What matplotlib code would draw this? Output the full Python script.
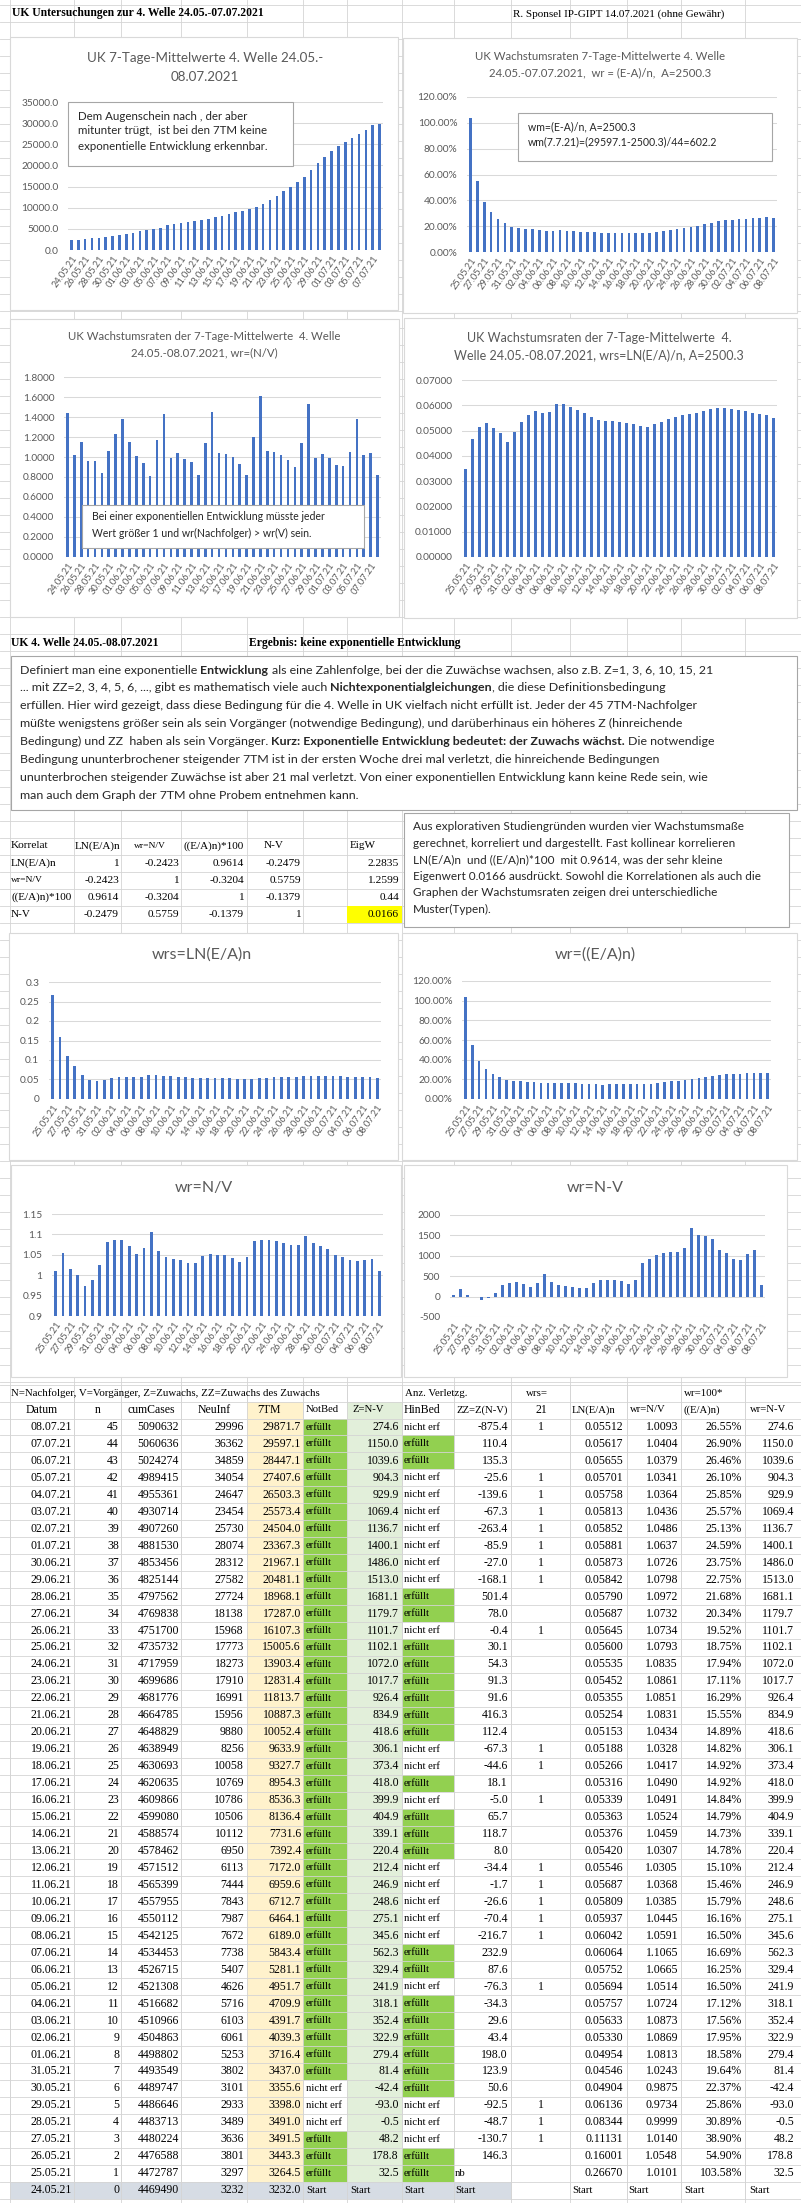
import matplotlib
matplotlib.use("Agg")
import matplotlib.pyplot as plt
from matplotlib.patches import Rectangle

W, H = 801, 2203
SANS = "Lato"
SERIF = "Liberation Serif"
BAR = "#4472C4"
GRID = "#D9D9D9"
TXT = "#595959"
SHEET = "#D4D4D4"

plt.rcParams["font.family"] = [SANS, "DejaVu Sans"]

# ---- table data (row order as in the sheet: 08.07.21 first) ----
datum = ["08.07.21", "07.07.21", "06.07.21", "05.07.21", "04.07.21", "03.07.21",
         "02.07.21", "01.07.21", "30.06.21", "29.06.21", "28.06.21", "27.06.21",
         "26.06.21", "25.06.21", "24.06.21", "23.06.21", "22.06.21", "21.06.21",
         "20.06.21", "19.06.21", "18.06.21", "17.06.21", "16.06.21", "15.06.21",
         "14.06.21", "13.06.21", "12.06.21", "11.06.21", "10.06.21", "09.06.21",
         "08.06.21", "07.06.21", "06.06.21", "05.06.21", "04.06.21", "03.06.21",
         "02.06.21", "01.06.21", "31.05.21", "30.05.21", "29.05.21", "28.05.21",
         "27.05.21", "26.05.21", "25.05.21", "24.05.21"]
n_day = [45, 44, 43, 42, 41, 40, 39, 38, 37, 36, 35, 34, 33, 32, 31, 30, 29, 28,
         27, 26, 25, 24, 23, 22, 21, 20, 19, 18, 17, 16, 15, 14, 13, 12, 11, 10,
         9, 8, 7, 6, 5, 4, 3, 2, 1, 0]
cum_cases = [5090632, 5060636, 5024274, 4989415, 4955361, 4930714, 4907260, 4881530,
             4853456, 4825144, 4797562, 4769838, 4751700, 4735732, 4717959, 4699686,
             4681776, 4664785, 4648829, 4638949, 4630693, 4620635, 4609866, 4599080,
             4588574, 4578462, 4571512, 4565399, 4557955, 4550112, 4542125, 4534453,
             4526715, 4521308, 4516682, 4510966, 4504863, 4498802, 4493549, 4489747,
             4486646, 4483713, 4480224, 4476588, 4472787, 4469490]
neu_inf = [29996, 36362, 34859, 34054, 24647, 23454, 25730, 28074, 28312, 27582,
           27724, 18138, 15968, 17773, 18273, 17910, 16991, 15956, 9880, 8256,
           10058, 10769, 10786, 10506, 10112, 6950, 6113, 7444, 7843, 7987, 7672,
           7738, 5407, 4626, 5716, 6103, 6061, 5253, 3802, 3101, 2933, 3489, 3636,
           3801, 3297, 3232]
tm7 = [29871.7, 29597.1, 28447.1, 27407.6, 26503.3, 25573.4, 24504.0, 23367.3,
       21967.1, 20481.1, 18968.1, 17287.0, 16107.3, 15005.6, 13903.4, 12831.4,
       11813.7, 10887.3, 10052.4, 9633.9, 9327.7, 8954.3, 8536.3, 8136.4, 7731.6,
       7392.4, 7172.0, 6959.6, 6712.7, 6464.1, 6189.0, 5843.4, 5281.1, 4951.7,
       4709.9, 4391.7, 4039.3, 3716.4, 3437.0, 3355.6, 3398.0, 3491.0, 3491.5,
       3443.3, 3264.5, 3232.0]
# E = erfüllt, N = nicht erf, S = Start
not_bed = "EEEEEEEEEEEEEEEEEEEEEEEEEEEEEEEEEEEEEEENNNEEES"
hin_bed = "NEENNNNNNNEENEEEEEENNENEEENNNNNEENEEEEEENNNEES"
z_nv = [274.6, 1150.0, 1039.6, 904.3, 929.9, 1069.4, 1136.7, 1400.1, 1486.0,
        1513.0, 1681.1, 1179.7, 1101.7, 1102.1, 1072.0, 1017.7, 926.4, 834.9,
        418.6, 306.1, 373.4, 418.0, 399.9, 404.9, 339.1, 220.4, 212.4, 246.9,
        248.6, 275.1, 345.6, 562.3, 329.4, 241.9, 318.1, 352.4, 322.9, 279.4,
        81.4, -42.4, -93.0, -0.5, 48.2, 178.8, 32.5]
zz = [-875.4, 110.4, 135.3, -25.6, -139.6, -67.3, -263.4, -85.9, -27.0, -168.1,
      501.4, 78.0, -0.4, 30.1, 54.3, 91.3, 91.6, 416.3, 112.4, -67.3, -44.6,
      18.1, -5.0, 65.7, 118.7, 8.0, -34.4, -1.7, -26.6, -70.4, -216.7, 232.9,
      87.6, -76.3, -34.3, 29.6, 43.4, 198.0, 123.9, 50.6, -92.5, -48.7, -130.7,
      146.3]
ln_ea = [0.05512, 0.05617, 0.05655, 0.05701, 0.05758, 0.05813, 0.05852, 0.05881,
         0.05873, 0.05842, 0.05790, 0.05687, 0.05645, 0.05600, 0.05535, 0.05452,
         0.05355, 0.05254, 0.05153, 0.05188, 0.05266, 0.05316, 0.05339, 0.05363,
         0.05376, 0.05420, 0.05546, 0.05687, 0.05809, 0.05937, 0.06042, 0.06064,
         0.05752, 0.05694, 0.05757, 0.05633, 0.05330, 0.04954, 0.04546, 0.04904,
         0.06136, 0.08344, 0.11131, 0.16001, 0.26670]
wr_nv = [1.0093, 1.0404, 1.0379, 1.0341, 1.0364, 1.0436, 1.0486, 1.0637, 1.0726,
         1.0798, 1.0972, 1.0732, 1.0734, 1.0793, 1.0835, 1.0861, 1.0851, 1.0831,
         1.0434, 1.0328, 1.0417, 1.0490, 1.0491, 1.0524, 1.0459, 1.0307, 1.0305,
         1.0368, 1.0385, 1.0445, 1.0591, 1.1065, 1.0665, 1.0514, 1.0724, 1.0873,
         1.0869, 1.0813, 1.0243, 0.9875, 0.9734, 0.9999, 1.0140, 1.0548, 1.0101]
wr_pct = [26.55, 26.90, 26.46, 26.10, 25.85, 25.57, 25.13, 24.59, 23.75, 22.75,
          21.68, 20.34, 19.52, 18.75, 17.94, 17.11, 16.29, 15.55, 14.89, 14.82,
          14.92, 14.92, 14.84, 14.79, 14.73, 14.78, 15.10, 15.46, 15.79, 16.16,
          16.50, 16.69, 16.25, 16.50, 17.12, 17.56, 17.95, 18.58, 19.64, 22.37,
          25.86, 30.89, 38.90, 54.90, 103.58]

# ---- values that the charts show differently from the table ----
chart1_start = [2420, 2440, 2680, 2900, 2920, 3150]   # first 6 bars of the 7TM chart
chart3_nv = [1.44, 1.020, 1.153, 0.957, 0.960, 0.841, 1.057, 1.226, 1.382, 1.154,
             1.007, 0.937, 0.809, 1.169, 1.431, 0.991, 1.041, 0.982, 0.949, 0.821,
             1.137, 1.455, 1.039, 1.027, 0.998, 0.934, 0.821, 1.197, 1.615, 1.065,
             1.054, 1.020, 0.973, 0.898, 1.136, 1.529, 0.995, 1.026, 0.992, 0.917,
             0.912, 1.051, 1.382, 1.024, 1.043, 0.825]
chart4_start = [0.0350, 0.0465, 0.0515, 0.0528, 0.0512]

# correlation matrix
corr_names = ["LN(E/A)n", "wr=N/V", "((E/A)n)*100", "N-V"]
corr = [[1, -0.2423, 0.9614, -0.2479],
        [-0.2423, 1, -0.3204, 0.5759],
        [0.9614, -0.3204, 1, -0.1379],
        [-0.2479, 0.5759, -0.1379, 1]]
eig_w = ["2.2835", "1.2599", "0.44", "0.0166"]

cats46 = datum[::-1]
cats45 = cats46[1:]
tm7_chart = list(tm7[::-1])
tm7_chart[:6] = chart1_start
ln_chart = list(ln_ea[::-1])
ln_chart4 = list(ln_chart)
ln_chart4[:5] = chart4_start

fig = plt.figure(figsize=(W / 100, H / 100), dpi=100)
bg = fig.add_axes([0, 0, 1, 1])
bg.set_xlim(0, W)
bg.set_ylim(H, 0)
bg.axis("off")
renderer = fig.canvas.get_renderer()


def px_axes(x0, y0, x1, y1, **kw):
    return fig.add_axes([x0 / W, 1 - y1 / H, (x1 - x0) / W, (y1 - y0) / H], **kw)


def width_px(s, **kw):
    t1 = bg.text(0, 0, "|" + s + "|", **kw)
    t2 = bg.text(0, 0, "||", **kw)
    w = t1.get_window_extent(renderer).width - t2.get_window_extent(renderer).width
    t1.remove()
    t2.remove()
    return w


def runs(ax, x, y, parts, size, family=SANS, color="#262626"):
    for s, bold in parts:
        kw = dict(fontsize=size, family=family, fontweight="bold" if bold else "normal")
        lead = s[:len(s) - len(s.lstrip())]
        xs = x + (width_px(lead, **kw) if lead else 0)
        ax.text(xs, y, s.lstrip(), ha="left", va="center", color=color, **kw)
        x += width_px(s, **kw)


# ---- spreadsheet grid behind everything ----
cols = [10, 74, 121, 181, 247, 303, 347, 402, 454, 511, 570, 627, 681, 745]
for cx in cols:
    bg.plot([cx, cx], [0, H], color=SHEET, lw=0.6, zorder=0)
y = 4.5
while y < 1385:
    bg.plot([0, W], [y, y], color=SHEET, lw=0.6, zorder=0)
    y += 17

# header line
bg.text(12, 13, "UK Untersuchungen zur 4. Welle 24.05.-07.07.2021", family=SERIF,
        fontweight="bold", fontsize=8.4, va="center", ha="left")
bg.text(513, 14, "R. Sponsel IP-GIPT 14.07.2021 (ohne Gewähr)", family=SERIF,
        fontsize=8.0, va="center", ha="left")


def chart(box, plot, values, cats, ylim, ticks, ticklabels, title, tx, ty, tsize,
          base=0.0):
    x0, y0, x1, y1 = box
    bg.add_patch(Rectangle((x0, y0), x1 - x0, y1 - y0, fc="white", ec=GRID,
                           lw=0.8, zorder=1))
    for line, yy in zip(title, ty):
        bg.text(tx, yy, line, ha="center", va="center", color=TXT, fontsize=tsize,
                zorder=2)
    ax = px_axes(*plot)
    ax.patch.set_alpha(0)
    n = len(values)
    ax.bar(range(n), [v - base for v in values], bottom=base, width=0.38,
           color=BAR, zorder=3)
    ax.set_xlim(-0.5, n - 0.5)
    ax.set_ylim(*ylim)
    for t in ticks:
        ax.axhline(t, color=GRID, lw=0.75, zorder=1)
    ax.set_yticks(ticks)
    ax.set_yticklabels(ticklabels)
    ax.set_xticks(range(0, n, 2))
    ax.set_xticklabels(cats[::2], rotation=55, ha="right", va="top",
                       rotation_mode="anchor")
    for s in ax.spines.values():
        s.set_visible(False)
    ax.tick_params(axis="y", length=0, labelsize=7.3, colors=TXT, pad=7)
    ax.tick_params(axis="x", length=0, labelsize=6.7, colors=TXT, pad=3)
    return ax


chart((10, 37, 398, 310), (68, 102, 383, 250), tm7_chart, cats46, (0, 35000),
      [0, 5000, 10000, 15000, 20000, 25000, 30000, 35000],
      ["0.0", "5000.0", "10000.0", "15000.0", "20000.0", "25000.0", "30000.0",
       "35000.0"],
      ["UK 7-Tage-Mittelwerte 4. Welle 24.05.-", "08.07.2021"], 205, [58, 77], 9.6)

chart((403, 38, 797, 313), (467, 97, 777, 252), wr_pct[::-1], cats45, (0, 120),
      [0, 20, 40, 60, 80, 100, 120],
      ["0.00%", "20.00%", "40.00%", "60.00%", "80.00%", "100.00%", "120.00%"],
      ["UK Wachstumsraten 7-Tage-Mittelwerte 4. Welle",
       "24.05.-07.07.2021,  wr = (E-A)/n,  A=2500.3"], 600, [57, 73], 8.2)

chart((10, 319, 399, 617), (64, 377, 381, 557), chart3_nv, cats46, (0, 1.8),
      [0, 0.2, 0.4, 0.6, 0.8, 1.0, 1.2, 1.4, 1.6, 1.8],
      ["0.0000", "0.2000", "0.4000", "0.6000", "0.8000", "1.0000", "1.2000",
       "1.4000", "1.6000", "1.8000"],
      ["UK Wachstumsraten der 7-Tage-Mittelwerte  4. Welle",
       "24.05.-08.07.2021, wr=(N/V)"], 204, [337, 353], 8.2)

chart((404, 318, 797, 618), (462, 380, 777, 557), ln_chart4, cats45, (0, 0.07),
      [0, 0.01, 0.02, 0.03, 0.04, 0.05, 0.06, 0.07],
      ["0.00000", "0.01000", "0.02000", "0.03000", "0.04000", "0.05000", "0.06000",
       "0.07000"],
      ["UK Wachstumsraten der 7-Tage-Mittelwerte  4.",
       "Welle 24.05.-08.07.2021, wrs=LN(E/A)/n, A=2500.3"], 599, [338, 356], 9.0)

chart((9, 933, 398, 1160), (49, 982, 381, 1099), ln_chart, cats45, (0, 0.3),
      [0, 0.05, 0.1, 0.15, 0.2, 0.25, 0.3],
      ["0", "0.05", "0.1", "0.15", "0.2", "0.25", "0.3"],
      ["wrs=LN(E/A)n"], 202, [955], 11.5)

chart((402, 933, 797, 1160), (462, 981, 771, 1099), wr_pct[::-1], cats45, (0, 120),
      [0, 20, 40, 60, 80, 100, 120],
      ["0.00%", "20.00%", "40.00%", "60.00%", "80.00%", "100.00%", "120.00%"],
      ["wr=((E/A)n)"], 595, [955], 11.5)

chart((11, 1165, 401, 1377), (52, 1214, 383, 1316), wr_nv[::-1], cats45,
      (0.9, 1.15), [0.9, 0.95, 1.0, 1.05, 1.1, 1.15],
      ["0.9", "0.95", "1", "1.05", "1.1", "1.15"],
      ["wr=N/V"], 204, [1188], 11.5, base=0.9)

chart((404, 1165, 787, 1377), (450, 1215, 765, 1317), z_nv[::-1], cats45,
      (-500, 2000), [-500, 0, 500, 1000, 1500, 2000],
      ["-500", "0", "500", "1000", "1500", "2000"],
      ["wr=N-V"], 595, [1188], 11.5)

# ---- overlay for boxes that sit on top of the bars ----
ov = fig.add_axes([0, 0, 1, 1], zorder=10)
ov.set_xlim(0, W)
ov.set_ylim(H, 0)
ov.axis("off")


def note(ax, box, lines, ys, x, size):
    x0, y0, x1, y1 = box
    ax.add_patch(Rectangle((x0, y0), x1 - x0, y1 - y0, fc="white", ec="#A6A6A6",
                           lw=0.8, zorder=5))
    for line, yy in zip(lines, ys):
        ax.text(x, yy, line, ha="left", va="center", fontsize=size, color="#262626",
                zorder=6)


note(ov, (68, 102, 293, 166),
     ["Dem Augenschein nach , der aber", "mitunter trügt,  ist bei den 7TM keine",
      "exponentielle Entwicklung erkennbar."], [116, 131, 147], 78, 8.3)
note(ov, (518, 113, 772, 161),
     ["wm=(E-A)/n, A=2500.3", "wm(7.7.21)=(29597.1-2500.3)/44=602.2"],
     [127, 142], 528, 7.6)
note(ov, (82, 505, 364, 548),
     ["Bei einer exponentiellen Entwicklung müsste jeder",
      "Wert größer 1 und wr(Nachfolger) > wr(V) sein."], [517, 533], 92, 7.6)

# ---- result line and explanation ----
bg.text(11, 643, "UK 4. Welle 24.05.-08.07.2021", family=SERIF, fontweight="bold",
        fontsize=8.4, va="center", ha="left")
bg.text(249, 643, "Ergebnis: keine exponentielle Entwicklung", family=SERIF,
        fontweight="bold", fontsize=8.4, va="center", ha="left")

bg.add_patch(Rectangle((11, 656), 786, 154, fc="white", ec="#A6A6A6", lw=0.8,
                       zorder=1))
para = [
    [("Definiert man eine exponentielle ", False), ("Entwicklung", True),
     (" als eine Zahlenfolge, bei der die Zuwächse wachsen, also z.B. Z=1, 3, 6, 10, 15, 21", False)],
    [("... mit ZZ=2, 3, 4, 5, 6, ..., gibt es mathematisch viele auch ", False),
     ("Nichtexponentialgleichungen", True), (", die diese Definitionsbedingung", False)],
    [("erfüllen. Hier wird gezeigt, dass diese Bedingung für die 4. Welle in UK vielfach nicht erfüllt ist. Jeder der 45 7TM-Nachfolger", False)],
    [("müßte wenigstens größer sein als sein Vorgänger (notwendige Bedingung), und darüberhinaus ein höheres Z (hinreichende", False)],
    [("Bedingung) und ZZ  haben als sein Vorgänger. ", False),
     ("Kurz: Exponentielle Entwicklung bedeutet: der Zuwachs wächst.", True),
     (" Die notwendige", False)],
    [("Bedingung ununterbrochener steigender 7TM ist in der ersten Woche drei mal verletzt, die hinreichende Bedingungen", False)],
    [("ununterbrochen steigender Zuwächse ist aber 21 mal verletzt. Von einer exponentiellen Entwicklung kann keine Rede sein, wie", False)],
    [("man auch dem Graph der 7TM ohne Probem entnehmen kann.", False)],
]
for k, parts in enumerate(para):
    runs(bg, 20, 670 + 17.86 * k, parts, 8.9)

# ---- correlation table ----
bg.add_patch(Rectangle((347, 905.5), 55, 17, fc="#FFFF00", ec="none", zorder=0.5))
hdr_y = 846
bg.text(11, hdr_y, "Korrelat", family=SERIF, fontsize=8.2, va="center")
bg.text(75, hdr_y, "LN(E/A)n", family=SERIF, fontsize=8.0, va="center")
bg.text(134, hdr_y, "wr=N/V", family=SERIF, fontsize=6.8, va="center")
bg.text(183, hdr_y, "((E/A)n)*100", family=SERIF, fontsize=8.0, va="center")
bg.text(274, hdr_y, "N-V", family=SERIF, fontsize=8.0, va="center", ha="center")
bg.text(350, hdr_y, "EigW", family=SERIF, fontsize=8.0, va="center")
val_x = [119, 179, 244, 301]
for r, name in enumerate(corr_names):
    yy = 863 + 17.1 * r
    t = bg.text(11, yy, name, family=SERIF, fontsize=6.8 if name == "wr=N/V" else 8.0,
                va="center")
    t.set_clip_path(Rectangle((10, yy - 9), 64, 18, transform=bg.transData))
    for c, v in enumerate(corr[r]):
        s = "1" if v == 1 else f"{v:.4f}"
        bg.text(val_x[c], yy, s, family=SERIF, fontsize=8.2, va="center", ha="right")
    bg.text(399, yy, eig_w[r], family=SERIF, fontsize=8.2, va="center", ha="right")

bg.add_patch(Rectangle((404, 813), 385, 114, fc="white", ec="#A6A6A6", lw=0.8,
                       zorder=1))
side = ["Aus explorativen Studiengründen wurden vier Wachstumsmaße",
        "gerechnet, korreliert und dargestellt. Fast kollinear korrelieren",
        "LN(E/A)n  und ((E/A)n)*100  mit 0.9614, was der sehr kleine",
        "Eigenwert 0.0166 ausdrückt. Sowohl die Korrelationen als auch die",
        "Graphen der Wachstumsraten zeigen drei unterschiedliche",
        "Muster(Typen)."]
for k, line in enumerate(side):
    bg.text(413, 827 + 16.4 * k, line, fontsize=8.5, va="center", color="#262626",
            zorder=2)

# ---- data table ----
ROW0, PITCH = 1427.0, 16.96
top = 1384.5
bottom = ROW0 + PITCH * 45 + PITCH / 2
green, light_green, cream, start_bg = "#92D050", "#E2EFDA", "#FFF2CC", "#D6DCE4"
bg.add_patch(Rectangle((247, top + 17), 56, bottom - top - 17, fc=cream, ec="none",
                       zorder=0.2))
bg.add_patch(Rectangle((347, top + 17), 55, bottom - top - 17, fc=light_green,
                       ec="none", zorder=0.2))
for i in range(46):
    yy = ROW0 + PITCH * i
    y_top = yy - PITCH / 2
    if not_bed[i] == "E":
        bg.add_patch(Rectangle((303, y_top), 44, PITCH, fc=green, ec="none", zorder=0.3))
    if hin_bed[i] == "E":
        bg.add_patch(Rectangle((402, y_top), 52, PITCH, fc=green, ec="none", zorder=0.3))
    if not_bed[i] == "S":
        bg.add_patch(Rectangle((10, y_top), 501, PITCH, fc=start_bg, ec="none",
                               zorder=0.3))
# table grid
yline = top
for k in range(49):
    bg.plot([0, W], [yline, yline], color=SHEET, lw=0.6, zorder=0.4)
    yline += 17 if k < 2 else PITCH
for cx in cols:
    bg.plot([cx, cx], [top, bottom], color=SHEET, lw=0.6, zorder=0.4)

fs, fs2 = 8.5, 7.7
pre_y = 1393
bg.text(11, pre_y, "N=Nachfolger, V=Vorgänger, Z=Zuwachs, ZZ=Zuwachs des Zuwachs",
        family=SERIF, fontsize=7.8, va="center")
bg.text(405, pre_y, "Anz. Verletzg.", family=SERIF, fontsize=7.8, va="center")
bg.text(526, pre_y, "wrs=", family=SERIF, fontsize=7.8, va="center")
bg.text(684, pre_y, "wr=100*", family=SERIF, fontsize=7.8, va="center")
head_y = 1410
bg.text(42, head_y, "Datum", family=SERIF, fontsize=fs, va="center", ha="center")
bg.text(98, head_y, "n", family=SERIF, fontsize=fs, va="center", ha="center")
bg.text(151, head_y, "cumCases", family=SERIF, fontsize=fs, va="center", ha="center")
bg.text(214, head_y, "NeuInf", family=SERIF, fontsize=fs, va="center", ha="center")
bg.text(257, head_y, "7TM", family=SERIF, fontsize=fs, va="center")
bg.text(306, head_y, "NotBed", family=SERIF, fontsize=fs2, va="center")
bg.text(352, head_y, "Z=N-V", family=SERIF, fontsize=fs2, va="center")
bg.text(404, head_y, "HinBed", family=SERIF, fontsize=fs, va="center")
bg.text(456, head_y, "ZZ=Z(N-V)", family=SERIF, fontsize=fs2, va="center")
bg.text(541, head_y, "21", family=SERIF, fontsize=fs, va="center", ha="center")
bg.text(572, head_y, "LN(E/A)n", family=SERIF, fontsize=fs2, va="center")
bg.text(630, head_y, "wr=N/V", family=SERIF, fontsize=fs2, va="center")
bg.text(684, head_y, "((E/A)n)", family=SERIF, fontsize=fs2, va="center")
bg.text(750, head_y, "wr=N-V", family=SERIF, fontsize=fs2, va="center")

word = {"E": "erfüllt", "N": "nicht erf", "S": "Start"}
for i in range(46):
    yy = ROW0 + PITCH * i
    kw = dict(family=SERIF, fontsize=fs, va="center")
    bg.text(72, yy, datum[i], ha="right", **kw)
    bg.text(119, yy, str(n_day[i]), ha="right", **kw)
    bg.text(179, yy, str(cum_cases[i]), ha="right", **kw)
    bg.text(244, yy, str(neu_inf[i]), ha="right", **kw)
    bg.text(301, yy, f"{tm7[i]:.1f}", ha="right", **kw)
    kw2 = dict(family=SERIF, fontsize=fs2, va="center", ha="left")
    bg.text(306, yy, word[not_bed[i]], **kw2)
    bg.text(404, yy, word[hin_bed[i]], **kw2)
    if i == 45:
        for sx in [350, 455, 572, 628, 684, 749]:
            bg.text(sx, yy, "Start", **kw2)
        continue
    bg.text(399, yy, f"{z_nv[i]:.1f}", ha="right", **kw)
    if i < 44:
        bg.text(508, yy, f"{zz[i]:.1f}", ha="right", **kw)
    else:
        bg.text(455, yy, "nb", **kw2)
    if hin_bed[i] == "N":
        bg.text(541, yy, "1", ha="center", **kw)
    bg.text(623, yy, f"{ln_ea[i]:.5f}", ha="right", **kw)
    bg.text(678, yy, f"{wr_nv[i]:.4f}", ha="right", **kw)
    bg.text(742, yy, f"{wr_pct[i]:.2f}%", ha="right", **kw)
    bg.text(794, yy, f"{z_nv[i]:.1f}", ha="right", **kw)

fig.savefig("out.png", dpi=100)
